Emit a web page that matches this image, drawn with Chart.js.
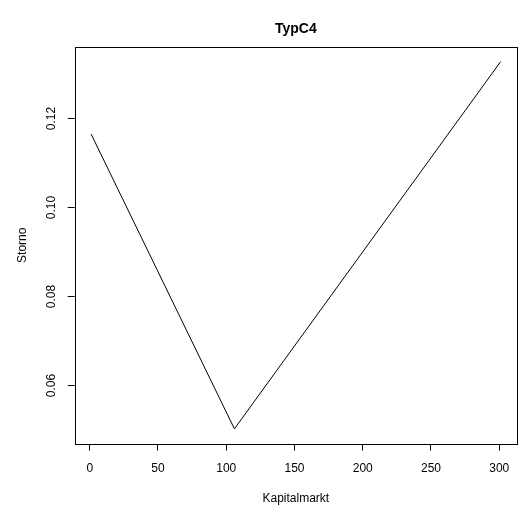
<!DOCTYPE html>
<html>
<head>
<meta charset="utf-8">
<script src="https://cdn.jsdelivr.net/npm/chart.js@4"></script>
<style>
  html, body { margin: 0; padding: 0; background: #fff; }
  #wrap { width: 521px; height: 513px; }
</style>
</head>
<body>
<div id="wrap"><canvas id="myChart" width="521" height="513"></canvas></div>
<script>
const kapitalmarkt = [1, 106, 301];
const storno = [0.1165, 0.0501, 0.1328];
const xTicks = [0, 50, 100, 150, 200, 250, 300];
const yTicks = [0.06, 0.08, 0.10, 0.12];

const FONT = '"Liberation Sans", Arial, Helvetica, sans-serif';

// box around the plot region, main title and the rotated y tick labels
const rBase = {
  id: 'rBase',
  afterDraw(chart) {
    const {ctx, chartArea: a, scales} = chart;
    ctx.save();
    ctx.strokeStyle = '#000';
    ctx.lineWidth = 1;
    ctx.strokeRect(Math.round(a.left) + 0.5, Math.round(a.top) + 0.5,
      Math.round(a.right - a.left), Math.round(a.bottom - a.top));

    ctx.fillStyle = '#000';
    ctx.font = 'bold 14px ' + FONT;
    ctx.textAlign = 'center';
    ctx.textBaseline = 'middle';
    ctx.fillText('TypC4', (a.left + a.right) / 2, 29);

    const y = scales.y;
    ctx.font = '12px ' + FONT;
    yTicks.forEach(v => {
      const py = Math.round(y.getPixelForValue(v)) + 0.5;
      ctx.beginPath();
      ctx.moveTo(a.left, py);
      ctx.lineTo(a.left - 7, py);
      ctx.stroke();
      ctx.save();
      ctx.translate(52, py);
      ctx.rotate(-Math.PI / 2);
      ctx.fillText(v.toFixed(2), 0, 0);
      ctx.restore();
    });
    ctx.restore();
  }
};

new Chart(document.getElementById('myChart'), {
  type: 'line',
  data: {
    datasets: [{
      data: kapitalmarkt.map((k, i) => ({x: k, y: storno[i]})),
      borderColor: '#000',
      borderWidth: 1,
      pointRadius: 0,
      tension: 0,
      fill: false
    }]
  },
  options: {
    responsive: false,
    animation: false,
    layout: { padding: { top: 47, right: 4, left: 0, bottom: 0 } },
    plugins: { legend: { display: false }, tooltip: { enabled: false } },
    scales: {
      x: {
        type: 'linear',
        min: -11,
        max: 313,
        afterBuildTicks: s => { s.ticks = xTicks.map(v => ({value: v})); },
        afterFit: s => { s.height = 69.5; },
        grid: { drawOnChartArea: false, drawTicks: true, tickLength: 7, color: '#000' },
        border: { display: false },
        ticks: { color: '#000', padding: 11, maxRotation: 0, font: { family: FONT, size: 12 } },
        title: { display: true, text: 'Kapitalmarkt', color: '#000', padding: { bottom: 7 }, font: { family: FONT, size: 12 } }
      },
      y: {
        type: 'linear',
        min: 0.0468,
        max: 0.1361,
        afterFit: s => { s.width = 74.7; },
        grid: { display: false },
        border: { display: false },
        ticks: { display: false },
        title: { display: true, text: 'Storno', color: '#000', padding: { top: 15 }, font: { family: FONT, size: 12 } }
      }
    }
  },
  plugins: [rBase]
});
</script>
</body>
</html>
